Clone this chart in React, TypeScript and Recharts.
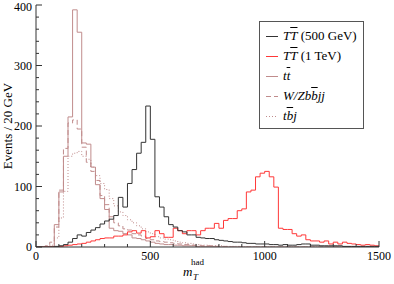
import React from 'react';
import { ComposedChart, Line, XAxis, YAxis, Legend, Label } from 'recharts';

const binStarts = [
  0, 20, 40, 60, 80, 100, 120, 140, 160, 180, 200, 220, 240, 260, 280, 300, 320, 340, 360, 380,
  400, 420, 440, 460, 480, 500, 520, 540, 560, 580, 600, 620, 640, 660, 680, 700, 720, 740, 760, 780,
  800, 820, 840, 860, 880, 900, 920, 940, 960, 980, 1000, 1020, 1040, 1060, 1080, 1100, 1120, 1140, 1160, 1180,
  1200, 1220, 1240, 1260, 1280, 1300, 1320, 1340, 1360, 1380, 1400, 1420, 1440, 1460, 1480,
];
const lastEdge = 1500;

const tt500 = [
  0, 0, 0, 0, 1, 2, 4, 8, 14, 20, 18, 24, 28, 32, 38, 43, 46, 52, 82, 66,
  105, 128, 155, 173, 233, 178, 83, 66, 50, 37, 33, 27, 25, 20, 20, 16, 15, 14, 14, 12,
  11, 10, 9, 8, 8, 7, 6, 6, 5, 5, 5, 4, 4, 3, 4, 3, 3, 4, 5, 5,
  3, 3, 2, 2, 2, 2, 2, 1, 1, 1, 1, 1, 1, 1, 1,
];
const tt1000 = [
  0, 0, 0, 0, 0, 1, 2, 3, 4, 5, 6, 8, 10, 12, 14, 15, 15, 18, 18, 20,
  25, 27, 23, 27, 15, 17, 27, 22, 16, 16, 31, 27, 22, 27, 27, 20, 27, 31, 31, 39,
  31, 44, 47, 47, 60, 63, 91, 94, 116, 122, 125, 116, 99, 31, 29, 29, 22, 18, 20, 12,
  10, 10, 8, 10, 5, 8, 5, 8, 6, 5, 4, 3, 4, 3, 2,
];
const ttbar = [
  0, 0, 0, 1, 37, 91, 150, 215, 392, 355, 172, 170, 132, 103, 80, 62, 31, 27, 26, 22,
  20, 15, 14, 12, 10, 8, 6, 5, 4, 4, 3, 3, 2, 2, 2, 1, 1, 1, 1, 1,
  0, 0, 0, 0, 0, 0, 0, 0, 0, 0, 0, 0, 0, 0, 0, 0, 0, 0, 0, 0,
  0, 0, 0, 0, 0, 0, 0, 0, 0, 0, 0, 0, 0, 0, 0,
];
const wzbbjj = [
  0, 0, 2, 8, 33, 94, 163, 205, 210, 195, 165, 140, 125, 110, 85, 70, 50, 40, 35, 30,
  28, 22, 20, 18, 14, 12, 10, 9, 8, 7, 6, 5, 4, 4, 3, 3, 2, 2, 2, 1,
  1, 1, 0, 0, 0, 0, 0, 0, 0, 0, 0, 0, 0, 0, 0, 0, 0, 0, 0, 0,
  0, 0, 0, 0, 0, 0, 0, 0, 0, 0, 0, 0, 0, 0, 0,
];
const tbj = [
  0, 0, 0, 3, 15, 48, 92, 150, 155, 158, 150, 145, 132, 118, 105, 95, 80, 68, 58, 52,
  45, 40, 35, 30, 25, 22, 17, 15, 13, 12, 10, 8, 7, 6, 5, 4, 3, 3, 2, 2,
  2, 1, 1, 1, 1, 0, 0, 0, 0, 0, 0, 0, 0, 0, 0, 0, 0, 0, 0, 0,
  0, 0, 0, 0, 0, 0, 0, 0, 0, 0, 0, 0, 0, 0, 0,
];

const xMajorTicks = [0, 500, 1000, 1500];
const xAllTicks = [0, 100, 200, 300, 400, 500, 600, 700, 800, 900, 1000, 1100, 1200, 1300, 1400, 1500];
const yMajorTicks = [0, 100, 200, 300, 400];
const yAllTicks = [
  0, 20, 40, 60, 80, 100, 120, 140, 160, 180, 200, 220, 240, 260, 280, 300, 320, 340, 360, 380, 400,
];

const FONT = '"Liberation Serif", "DejaVu Serif", serif';
const AXIS = '#333333';
const ROSY = '#c08c8c';

const series = [
  { key: 'tt500', color: '#333333', dash: undefined as string | undefined },
  { key: 'tt1000', color: '#ff3838', dash: undefined as string | undefined },
  { key: 'ttbar', color: ROSY, dash: undefined as string | undefined },
  { key: 'wzbbjj', color: ROSY, dash: '5 3' },
  { key: 'tbj', color: ROSY, dash: '1 2' },
];

const data = [...binStarts, lastEdge].map((x, i) => {
  const j = Math.min(i, binStarts.length - 1);
  return {
    x,
    tt500: tt500[j],
    tt1000: tt1000[j],
    ttbar: ttbar[j],
    wzbbjj: wzbbjj[j],
    tbj: tbj[j],
  };
});

const Over = ({ children }: { children: React.ReactNode }) => (
  <span style={{ textDecoration: 'overline' }}>{children}</span>
);

const legendLabels: React.ReactNode[] = [
  <span><i>T</i><i><Over>T</Over></i> (500 GeV)</span>,
  <span><i>T</i><i><Over>T</Over></i> (1 TeV)</span>,
  <span><i>t</i><i><Over>t</Over></i></span>,
  <span><i>W/Zb<Over>b</Over>jj</i></span>,
  <span><i>t<Over>b</Over>j</i></span>,
];

const renderLegend = () => (
  <div
    style={{
      position: 'relative',
      width: 105,
      height: 108,
      border: '1px solid #555',
      background: '#fff',
      fontFamily: FONT,
      fontSize: 13,
      color: '#000',
      boxSizing: 'border-box',
    }}
  >
    {series.map((s, i) => (
      <div
        key={s.key}
        style={{ position: 'absolute', left: 0, top: 5 + i * 20, height: 18, display: 'flex', alignItems: 'center', whiteSpace: 'nowrap' }}
      >
        <svg width={22} height={18} style={{ display: 'block' }}>
          <line x1={6} x2={18} y1={9.5} y2={9.5} stroke={s.color} strokeWidth={1} strokeDasharray={s.dash} />
        </svg>
        <span style={{ marginLeft: 1 }}>{legendLabels[i]}</span>
      </div>
    ))}
  </div>
);

const makeXTick = (side: 'bottom' | 'top') => (props: any) => {
  const { x, y, payload } = props;
  const v = payload.value;
  const major = xMajorTicks.includes(v);
  const len = major ? 6 : 3;
  const dir = side === 'bottom' ? -1 : 1;
  return (
    <g>
      <line x1={x} x2={x} y1={y} y2={y + dir * len} stroke={AXIS} strokeWidth={1} />
      {side === 'bottom' && major ? (
        <text x={x} y={y + 13} textAnchor="middle" fontFamily={FONT} fontSize={12} fill="#000">
          {v}
        </text>
      ) : null}
    </g>
  );
};

const makeYTick = (side: 'left' | 'right') => (props: any) => {
  const { x, y, payload } = props;
  const v = payload.value;
  const major = yMajorTicks.includes(v);
  const len = major ? 6 : 3;
  const dir = side === 'left' ? 1 : -1;
  return (
    <g>
      <line x1={x} x2={x + dir * len} y1={y} y2={y} stroke={AXIS} strokeWidth={1} />
      {side === 'left' && major ? (
        <text x={x - 4} y={Math.max(y, 7)} dy="0.35em" textAnchor="end" fontFamily={FONT} fontSize={12} fill="#000">
          {v}
        </text>
      ) : null}
    </g>
  );
};

const XLabel = () => (
  <g fontFamily={FONT} fill="#000">
    <text x={183} y={276} fontSize={13} fontStyle="italic">m</text>
    <text x={193} y={280} fontSize={9} fontStyle="italic">T</text>
    <text x={191} y={265} fontSize={9}>had</text>
  </g>
);

const YLabel = () => (
  <text
    x={12}
    y={126}
    transform="rotate(-90 12 126)"
    textAnchor="middle"
    fontFamily={FONT}
    fontSize={13}
    fill="#000"
  >
    Events / 20 GeV
  </text>
);

export default function App() {
  return (
    <div style={{ position: 'absolute', left: 0, top: 0, width: 394, height: 284, background: '#fff' }}>
      <ComposedChart width={394} height={284} data={data} margin={{ top: 5, right: 15, bottom: 0, left: 6 }}>
        <XAxis
          dataKey="x"
          type="number"
          domain={[0, 1500]}
          ticks={xAllTicks}
          interval={0}
          tickSize={0}
          tickMargin={0}
          tickLine={false}
          tick={makeXTick('bottom')}
          axisLine={{ stroke: AXIS }}
          height={37}
          allowDataOverflow
        >
          <Label content={<XLabel />} />
        </XAxis>
        <XAxis
          xAxisId="top"
          dataKey="x"
          type="number"
          orientation="top"
          domain={[0, 1500]}
          ticks={xAllTicks}
          interval={0}
          tickSize={0}
          tickMargin={0}
          tickLine={false}
          tick={makeXTick('top')}
          axisLine={{ stroke: AXIS }}
          height={0}
          allowDataOverflow
        />
        <YAxis
          type="number"
          domain={[0, 400]}
          ticks={yAllTicks}
          interval={0}
          tickSize={0}
          tickMargin={0}
          tickLine={false}
          tick={makeYTick('left')}
          axisLine={{ stroke: AXIS }}
          width={30}
          allowDataOverflow
        >
          <Label content={<YLabel />} />
        </YAxis>
        <YAxis
          yAxisId="right"
          orientation="right"
          type="number"
          domain={[0, 400]}
          ticks={yAllTicks}
          interval={0}
          tickSize={0}
          tickMargin={0}
          tickLine={false}
          tick={makeYTick('right')}
          axisLine={{ stroke: AXIS }}
          width={0}
          allowDataOverflow
        />
        <Legend
          layout="vertical"
          align="center"
          verticalAlign="middle"
          content={renderLegend}
          wrapperStyle={{ position: 'absolute', left: 259, top: 21, width: 105, height: 108 }}
        />
        {[...series].reverse().map((s) => (
          <Line
            key={s.key}
            dataKey={s.key}
            type="stepAfter"
            stroke={s.color}
            strokeWidth={1}
            strokeDasharray={s.dash}
            dot={false}
            activeDot={false}
            isAnimationActive={false}
            legendType="none"
          />
        ))}
      </ComposedChart>
    </div>
  );
}
